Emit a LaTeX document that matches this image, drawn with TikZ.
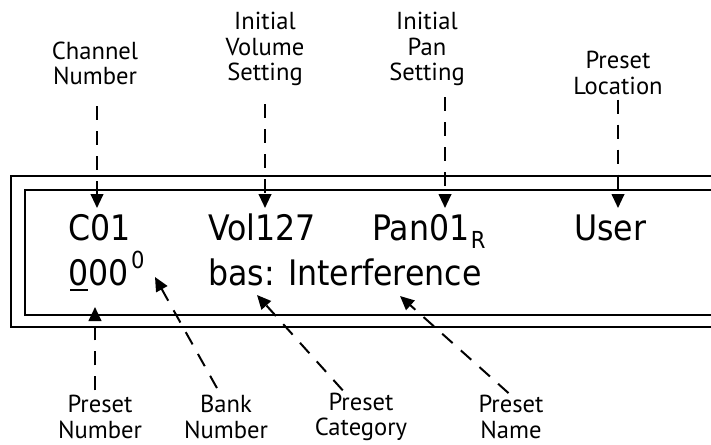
\documentclass[tikz,border=0pt]{standalone}
\usepackage{fontspec}
\setmainfont{PT Sans}
\newfontfamily\lcdfont{DejaVu Sans Condensed}
\usetikzlibrary{arrows.meta}

\begin{document}
\begin{tikzpicture}[x=0.03cm, y=-0.03cm,
  lbl/.style = {align=center, inner sep=0pt, font=\fontsize{21}{21.5}\selectfont},
  lcd/.style = {anchor=base west, inner sep=0pt, font=\lcdfont\fontsize{30}{32}\selectfont},
  lcdsmall/.style = {anchor=base west, inner sep=0pt, font=\lcdfont\fontsize{20}{20}\selectfont},
  ptr/.style = {line width=1.7pt, dash pattern=on 0.42cm off 0.33cm, -{Triangle[width=0.38cm,length=0.42cm]}},
  frame/.style = {line width=2.2pt}]
\useasboundingbox (0,0) rectangle (711,444);

% display frame, open on the right
\draw[frame] (711,176) -- (11,176) -- (11,327) -- (711,327);
\draw[frame] (711,190) -- (25,190) -- (25,315) -- (711,315);

% display text
\node[lcd] (chan) at (68,240) {C01};
\node[lcd] (vol) at (208,240) {Vol127};
\node[lcd] (pan) at (372,240) {Pan01};
\node[lcdsmall, anchor=base west] (panSide) at ([xshift=0.03cm,yshift=-0.24cm]pan.base east) {R};
\node[lcd] (loc) at (574,240) {User};
\node[lcd] (num) at (68,285) {000};
\node[lcdsmall, anchor=base west] (bank) at ([xshift=0.06cm,yshift=0.51cm]num.base east) {0};
\node[lcd] (name) at (208,285) {bas: Interference};
\draw[line width=2.2pt] (70,290) -- (88,290);

% labels
\node[lbl] (chLbl) at (95,63) {Channel\\Number};
\node[lbl] (volLbl) at (265,49) {Initial\\Volume\\Setting};
\node[lbl] (panLbl) at (427,49) {Initial\\Pan\\Setting};
\node[lbl] (locLbl) at (618,73) {Preset\\Location};
\node[lbl] (numLbl) at (100,417) {Preset\\Number};
\node[lbl] (bankLbl) at (226,417) {Bank\\Number};
\node[lbl] (catLbl) at (361,417) {Preset\\Category};
\node[lbl] (nameLbl) at (511,417) {Preset\\Name};

\coordinate (chTip) at (97,208);
\coordinate (volTip) at (265,208);
\coordinate (panTip) at (445,208);
\coordinate (locTip) at (618,208);
\coordinate (numTip) at (95,307);
\coordinate (bankTip) at (155,277);
\coordinate (catTip) at (257,295);
\coordinate (nameTip) at (400,296);

\draw[ptr, shorten <=0.65cm] (chLbl.south -| chTip) -- (chTip);
\draw[ptr, shorten <=0.55cm] (volLbl.south -| volTip) -- (volTip);
\draw[ptr, shorten <=0.35cm] (panLbl.south -| panTip) -- (panTip);
\draw[ptr, shorten <=0.15cm] (locLbl.south -| locTip) -- (locTip);
\draw[ptr, shorten <=0.15cm] (numLbl.north -| numTip) -- (numTip);
\draw[ptr, shorten <=0.25cm] ([xshift=-0.15cm]bankLbl.north) -- (bankTip);
\draw[ptr, shorten <=0.1cm] ([xshift=-0.48cm]catLbl.north) -- (catTip);
\draw[ptr, shorten <=0.1cm] (nameLbl.north) -- (nameTip);
\end{tikzpicture}
\end{document}
